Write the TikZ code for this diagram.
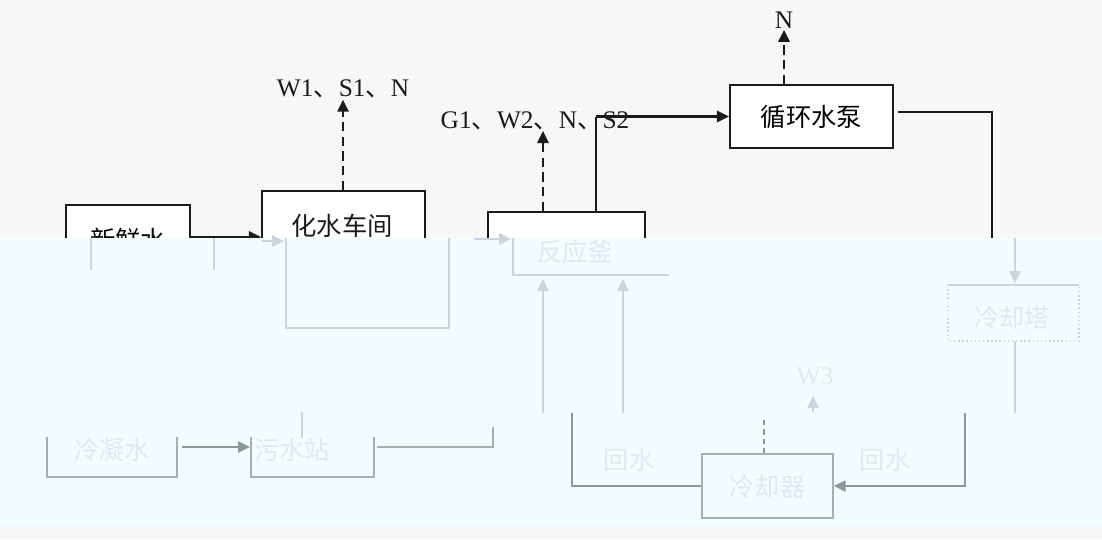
\documentclass[tikz,border=0pt]{standalone}
\usepackage{fontspec}
\setmainfont{Liberation Serif}
\newfontfamily\cjk{Noto Sans CJK SC}
\usetikzlibrary{arrows.meta}
\definecolor{bgtop}{HTML}{F7F7F7}
\definecolor{bgfade}{HTML}{F3FCFE}
\definecolor{ghost}{HTML}{CAD5DE}
\definecolor{midline}{HTML}{8A9A9A}
\definecolor{lowline}{HTML}{A4B0B2}
\definecolor{faint}{HTML}{DEEAF0}
\definecolor{ink}{HTML}{1A1A1A}
\begin{document}
\begin{tikzpicture}[x=0.75pt,y=-0.75pt,
  font=\fontsize{19}{22}\selectfont,
  box/.style={draw=ink,line width=1.6pt,inner sep=0pt,fill=white},
  txt/.style={inner sep=1pt,text=ink},
  arr/.style={draw=ink,line width=1.6pt,-{Triangle[length=9pt,width=8.5pt]}},
  dasharr/.style={draw=ink,line width=1.6pt,dash pattern=on 7pt off 4pt,-{Triangle[length=9pt,width=8.5pt]}},
  line/.style={draw=ink,line width=1.6pt},
  gline/.style={draw=ghost,line width=1.1pt},
  garr/.style={draw=ghost,line width=1.1pt,-{Triangle[length=9pt,width=8.5pt]}},
  mline/.style={draw=midline,line width=1.1pt},
  marr/.style={draw=midline,line width=1.1pt,-{Triangle[length=9pt,width=8.5pt]}},
  lline/.style={draw=lowline,line width=1.1pt},
  ftxt/.style={inner sep=1pt,text=faint}]
\useasboundingbox (0,0) rectangle (1102,539);
\fill[bgtop] (0,0) rectangle (1102,539);

% ---------- clear upper layer ----------
\node[box,minimum width=93pt,minimum height=52.5pt] (xin) at (128,240) {\cjk 新鲜水};
\node[box,minimum width=122.25pt,minimum height=81.75pt] (hs) at (343.5,245.5) {};
\node[txt] (hst) at (342,226) {\cjk 化水车间};
\node[box,minimum width=117.75pt,minimum height=47.25pt] (main) at (566.5,243.5) {};
\node[box,minimum width=122.25pt,minimum height=47.25pt] (pump) at (811.5,116.5) {\cjk 循环水泵};

\node[txt] (l1) at (343,89) {W1{\cjk 、}S1{\cjk 、}N};
\node[txt] (l2) at (535,121) {G1{\cjk 、}W2{\cjk 、}N{\cjk 、}S2};
\node[txt] (l3) at (784,20) {N};
\coordinate (g1tip) at (543,131);
\coordinate (m2) at (596,0);
\coordinate (ptop) at (784,0);
\coordinate (rcorner) at (992,240);

\draw[arr] (xin.east |- 0,237) -- (hs.west |- 0,237);
\draw[dasharr] (hs.north -| l1) -- (l1.south);
\draw[dasharr] (main.north -| g1tip) -- (g1tip);
\draw[line] (main.north -| m2) -- (m2 |- pump.west);
\draw[arr] (m2 |- pump.west) -- (pump.west);
\draw[dasharr] (pump.north -| ptop) -- (l3.south);
\draw[line] ([xshift=3pt]pump.east |- 0,112) -| (rcorner);

% ---------- faded overlay ----------
\fill[bgfade] (0,238) rectangle (1102,526);

% ghost lines (light band)
\draw[gline] (91,238) -- (91,270);
\draw[gline] (214,238) -- (214,270);
\draw[garr] (262,241) -- (284,241);
\draw[gline] (286,238) |- (449,328) -- (449,238);
\draw[garr] (474,239) -- (511,239);
\draw[gline] (513,238) |- (669,275);
\node[ftxt] (gmain) at (575,252) {\cjk 反应釜};
\draw[garr] (543,413) -- (543,279);
\draw[garr] (623,413) -- (623,279);
\draw[garr] (1015,238) -- (1015,283);
\draw[gline] (948,285) -- (1079,285);
\draw[gline,dotted] (948,285) -- (948,341) -- (1079,341) -- (1079,285);
\node[ftxt] (gright) at (1012,318) {\cjk 冷却塔};
\draw[gline] (1015,341) -- (1015,413);
\node[ftxt] (w3) at (815,376) {W3};
\draw[garr] (813,412) -- (813,396);

% mid band
\node[draw=lowline,line width=1.1pt,inner sep=0pt,minimum width=98.25pt,minimum height=48pt] (cool) at (767.5,486) {};
\node[ftxt] (coolt) at (767.5,487) {\cjk 冷却器};
\draw[mline] (cool.west) -| (572,413);
\draw[marr] (965,413) |- (cool.east);
\draw[mline,dash pattern=on 4pt off 3pt] (cool.north -| 764,0) -- (764,420);
\node[ftxt] (hs1) at (629,460) {\cjk 回水};
\node[ftxt] (hs2) at (885,460) {\cjk 回水};

% bottom-left
\draw[lline] (47,437) |- (177,477) -- (177,437);
\node[ftxt] (ta) at (112,450) {\cjk 冷凝水};
\draw[marr] (182,447) -- (250,447);
\draw[lline] (251,437) |- (374,477) -- (374,437);
\node[ftxt] (tb) at (292,450) {\cjk 污水站};
\draw[lline] (377,447) -- (493,447) -- (493,427);
\draw[gline] (302,412) -- (302,438);
\end{tikzpicture}
\end{document}
